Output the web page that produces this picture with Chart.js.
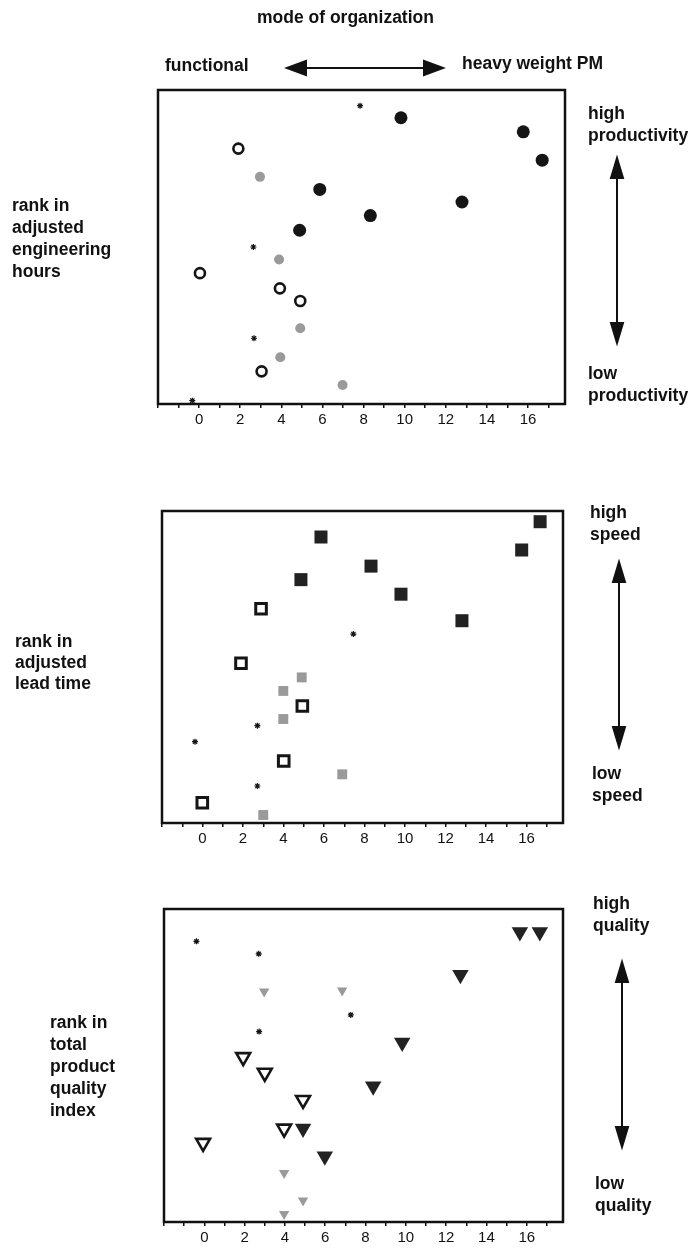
<!DOCTYPE html>
<html>
<head>
<meta charset="utf-8">
<script src="https://cdn.jsdelivr.net/npm/chart.js@4.4.1/dist/chart.umd.min.js"></script>
<style>
  body { margin: 0; background: #fff; }
  #page { position: relative; width: 693px; height: 1249px; overflow: hidden; font-family: "Liberation Sans", Arial, sans-serif; color: #111; }
  canvas { position: absolute; left: 0; }
  .lbl { position: absolute; font-weight: bold; font-size: 17.5px; line-height: 22px; white-space: nowrap; }
  svg { position: absolute; left: 0; top: 0; }
</style>
</head>
<body>
<div id="page">
  <canvas id="c1" width="693" height="440" style="top:0"></canvas>
  <canvas id="c2" width="693" height="410" style="top:440px"></canvas>
  <canvas id="c3" width="693" height="399" style="top:850px"></canvas>

  <div class="lbl" style="left:257px;top:6px">mode of organization</div>
  <div class="lbl" style="left:165px;top:54px">functional</div>
  <div class="lbl" style="left:462px;top:52px">heavy weight PM</div>

  <div class="lbl" style="left:12px;top:194px">rank in<br>adjusted<br>engineering<br>hours</div>
  <div class="lbl" style="left:588px;top:102px">high<br>productivity</div>
  <div class="lbl" style="left:588px;top:362px">low<br>productivity</div>

  <div class="lbl" style="left:15px;top:631px;line-height:21px">rank in<br>adjusted<br>lead time</div>
  <div class="lbl" style="left:590px;top:501px">high<br>speed</div>
  <div class="lbl" style="left:592px;top:762px">low<br>speed</div>

  <div class="lbl" style="left:50px;top:1011px">rank in<br>total<br>product<br>quality<br>index</div>
  <div class="lbl" style="left:593px;top:892px">high<br>quality</div>
  <div class="lbl" style="left:595px;top:1172px">low<br>quality</div>

  <svg width="693" height="1249">
    <g stroke="#111" stroke-width="2" fill="#111">
      <line x1="300" y1="68" x2="430" y2="68"/>
      <polygon points="287,68 306,61 306,75"/>
      <polygon points="443,68 424,61 424,75"/>

      <line x1="617" y1="172" x2="617" y2="330"/>
      <polygon points="617,158 611,178 623,178"/>
      <polygon points="617,343 611,323 623,323"/>

      <line x1="619" y1="576" x2="619" y2="734"/>
      <polygon points="619,562 613,582 625,582"/>
      <polygon points="619,747 613,727 625,727"/>

      <line x1="622" y1="976" x2="622" y2="1134"/>
      <polygon points="622,962 616,982 628,982"/>
      <polygon points="622,1147 616,1127 628,1127"/>
    </g>
  </svg>
</div>

<script>
// panel 1: rank in adjusted engineering hours
const hoursBlackX = [9.82, 15.77, 16.69, 5.87, 12.79, 8.33, 4.89];
const hoursBlackY = [27.35, 26.0, 23.3, 20.5, 19.3, 18.0, 16.6];
const hoursOpenX = [1.91, 0.04, 3.93, 4.92, 3.04];
const hoursOpenY = [24.4, 12.5, 11.05, 9.84, 3.12];
const hoursGrayX = [2.96, 3.89, 4.92, 3.95, 6.98];
const hoursGrayY = [21.7, 13.8, 7.23, 4.46, 1.82];
const hoursStarX = [7.83, 2.64, 2.67, -0.33];
const hoursStarY = [28.5, 15.0, 6.28, 0.32];

// panel 2: rank in adjusted lead time
const leadBlackX = [5.85, 16.67, 15.76, 8.32, 4.86, 9.8, 12.81];
const leadBlackY = [27.5, 28.97, 26.25, 24.7, 23.4, 22.0, 19.45];
const leadOpenX = [2.89, 1.9, 4.93, 4.01, -0.01];
const leadOpenY = [20.6, 15.36, 11.25, 5.96, 1.95];
const leadGrayX = [4.9, 3.99, 3.99, 6.9, 3.0];
const leadGrayY = [14.0, 12.7, 10.0, 4.68, 0.77];
const leadStarX = [7.45, 2.71, -0.37, 2.71];
const leadStarY = [18.17, 9.36, 7.82, 3.56];

// panel 3: rank in total product quality index
const qualBlackX = [15.66, 16.65, 12.71, 9.82, 8.38, 4.9, 5.98];
const qualBlackY = [27.8, 27.8, 23.7, 17.2, 13.0, 8.95, 6.3];
const qualOpenX = [1.93, 3.0, 4.9, 3.96, -0.06];
const qualOpenY = [15.8, 14.3, 11.7, 8.95, 7.58];
const qualGrayX = [2.97, 6.84, 3.96, 4.9, 3.96];
const qualGrayY = [22.1, 22.2, 4.7, 2.05, 0.77];
const qualStarX = [-0.39, 2.7, 7.27, 2.72];
const qualStarY = [26.9, 25.7, 19.85, 18.25];

const xTickLabels = [0, 2, 4, 6, 8, 10, 12, 14, 16];

function pts(xs, ys) {
    return xs.map(function (x, i) { return { x: x, y: ys[i] }; });
}

const framePlugin = {
    id: "frame",
    beforeDatasetsDraw: function (chart) {
        const a = chart.chartArea;
        const ctx = chart.ctx;
        ctx.save();
        ctx.lineWidth = 2.5;
        ctx.strokeStyle = "#111";
        ctx.strokeRect(a.left, a.top, a.right - a.left, a.bottom - a.top);
        ctx.restore();
    },
};

function makePanel(id, pad, sets) {
    new Chart(document.getElementById(id), {
        type: "scatter",
        data: { datasets: sets },
        plugins: [framePlugin],
        options: {
            responsive: false,
            animation: false,
            devicePixelRatio: 1,
            layout: { padding: pad },
            plugins: { legend: { display: false }, tooltip: { enabled: false } },
            scales: {
                x: {
                    type: "linear",
                    min: -2,
                    max: 17.8,
                    afterFit: function (s) { s.height = 24; },
                    border: { display: false },
                    grid: { drawOnChartArea: false, drawTicks: true, tickLength: 4, color: "#111", lineWidth: 1.5 },
                    ticks: {
                        stepSize: 1,
                        includeBounds: false,
                        autoSkip: false,
                        maxRotation: 0,
                        padding: 3,
                        color: "#111",
                        font: { family: "Liberation Sans", size: 15 },
                        callback: function (v) {
                            return xTickLabels.indexOf(v) >= 0 ? String(v) : "";
                        },
                    },
                },
                y: { min: 0, max: 30, display: false },
            },
        },
    });
}

function ds(xs, ys, style) {
    return Object.assign({ data: pts(xs, ys), clip: false, pointHoverRadius: 0 }, style);
}

const black = "#151515";
const gray = "#9a9a9a";

makePanel("c1", { left: 158, right: 128, top: 90, bottom: 12 }, [
    ds(hoursStarX, hoursStarY, { pointStyle: "star", pointRadius: 3, pointBorderWidth: 1.2, pointBorderColor: black }),
    ds(hoursGrayX, hoursGrayY, { pointStyle: "circle", pointRadius: 5, pointBorderWidth: 0, pointBackgroundColor: gray, pointBorderColor: gray }),
    ds(hoursOpenX, hoursOpenY, { pointStyle: "circle", pointRadius: 5, pointBorderWidth: 2.6, pointBackgroundColor: "#fff", pointBorderColor: black }),
    ds(hoursBlackX, hoursBlackY, { pointStyle: "circle", pointRadius: 6.5, pointBorderWidth: 0, pointBackgroundColor: black, pointBorderColor: black }),
]);

makePanel("c2", { left: 162, right: 130, top: 71, bottom: 3 }, [
    ds(leadStarX, leadStarY, { pointStyle: "star", pointRadius: 3, pointBorderWidth: 1.2, pointBorderColor: black }),
    ds(leadGrayX, leadGrayY, { pointStyle: "rect", pointRadius: 7, pointBorderWidth: 0, pointBackgroundColor: gray, pointBorderColor: gray }),
    ds(leadOpenX, leadOpenY, { pointStyle: "rect", pointRadius: 7.5, pointBorderWidth: 3, pointBackgroundColor: "#fff", pointBorderColor: black }),
    ds(leadBlackX, leadBlackY, { pointStyle: "rect", pointRadius: 9.2, pointBorderWidth: 0, pointBackgroundColor: "#222", pointBorderColor: "#222" }),
]);

makePanel("c3", { left: 164, right: 130, top: 59, bottom: 3 }, [
    ds(qualStarX, qualStarY, { pointStyle: "star", pointRadius: 3, pointBorderWidth: 1.2, pointBorderColor: black }),
    ds(qualGrayX, qualGrayY, { pointStyle: "triangle", pointRotation: 180, pointRadius: 6, pointBorderWidth: 0, pointBackgroundColor: gray, pointBorderColor: gray }),
    ds(qualOpenX, qualOpenY, { pointStyle: "triangle", pointRotation: 180, pointRadius: 8, pointBorderWidth: 2.6, pointBackgroundColor: "#fff", pointBorderColor: black }),
    ds(qualBlackX, qualBlackY, { pointStyle: "triangle", pointRotation: 180, pointRadius: 9.5, pointBorderWidth: 0, pointBackgroundColor: "#222", pointBorderColor: "#222" }),
]);
</script>
</body>
</html>
